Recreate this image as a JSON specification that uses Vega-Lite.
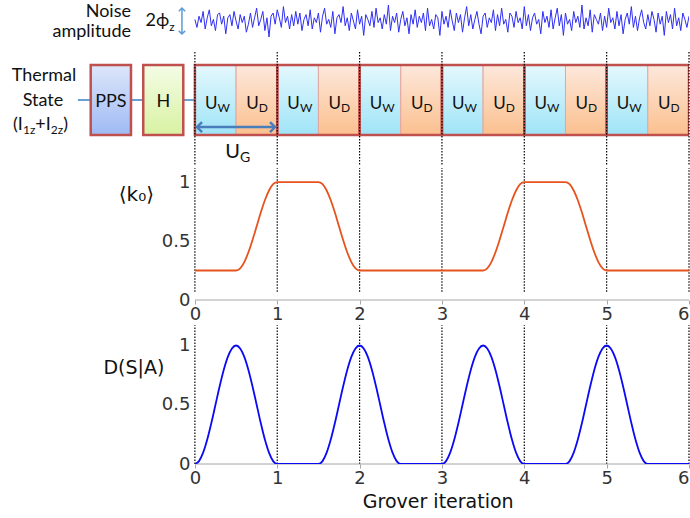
{
"$schema": "https://vega.github.io/schema/vega-lite/v6.json",
"padding": 0,
"background": "#ffffff",
"spacing": 0,
"config": {"view": {"stroke": null}, "font": "DejaVu Sans", "axis": {"grid": false, "labelFont": "DejaVu Sans"}},
"datasets": {
"grid": [{"x":0},{"x":1},{"x":2},{"x":3},{"x":4},{"x":5},{"x":6}],
"boxes": [
{"kind":"PPS","x":-1.265,"x2":-0.776},
{"kind":"H","x":-0.627,"x2":-0.141},
{"kind":"UW","x":0,"x2":0.5},{"kind":"UD","x":0.5,"x2":1},
{"kind":"UW","x":1,"x2":1.5},{"kind":"UD","x":1.5,"x2":2},
{"kind":"UW","x":2,"x2":2.5},{"kind":"UD","x":2.5,"x2":3},
{"kind":"UW","x":3,"x2":3.5},{"kind":"UD","x":3.5,"x2":4},
{"kind":"UW","x":4,"x2":4.5},{"kind":"UD","x":4.5,"x2":5},
{"kind":"UW","x":5,"x2":5.5},{"kind":"UD","x":5.5,"x2":6},
{"kind":"G","x":0,"x2":1},{"kind":"G","x":1,"x2":2},{"kind":"G","x":2,"x2":3},
{"kind":"G","x":3,"x2":4},{"kind":"G","x":4,"x2":5},{"kind":"G","x":5,"x2":6}
],
"links": [
{"name":"conn","x":-1.42,"x2":0,"y":0.5,"y2":0.5},
{"name":"ug","x":0.026,"x2":0.973,"y":0.114,"y2":0.114},
{"name":"amp","x":-0.157,"x2":-0.157,"y":1.443,"y2":1.814}
],
"texts": [
{"group":"r","t":"Noise","x":-0.776,"y":1.76},
{"group":"r","t":"amplitude","x":-0.776,"y":1.47},
{"group":"c","t":"Thermal","x":-1.832,"y":0.85},
{"group":"c","t":"State","x":-1.845,"y":0.49},
{"group":"c","t":"PPS","x":-1.02,"y":0.47},
{"group":"c","t":"H","x":-0.384,"y":0.47},
{"group":"l","t":"(I","x":-2.209,"y":0.143},
{"group":"l","t":"+I","x":-1.937,"y":0.143},
{"group":"l","t":")","x":-1.599,"y":0.143},
{"group":"s","t":"1z","x":-2.087,"y":0.071},
{"group":"s","t":"2z","x":-1.75,"y":0.071},
{"group":"p","t":"2ϕ","x":-0.6,"y":1.63},
{"group":"s","t":"z","x":-0.31,"y":1.54},
{"group":"u","t":"U","x":0.275,"y":0.44},{"group":"s","t":"W","x":0.275,"y":0.385},
{"group":"u","t":"U","x":0.775,"y":0.44},{"group":"s","t":"D","x":0.775,"y":0.385},
{"group":"u","t":"U","x":1.275,"y":0.44},{"group":"s","t":"W","x":1.275,"y":0.385},
{"group":"u","t":"U","x":1.775,"y":0.44},{"group":"s","t":"D","x":1.775,"y":0.385},
{"group":"u","t":"U","x":2.275,"y":0.44},{"group":"s","t":"W","x":2.275,"y":0.385},
{"group":"u","t":"U","x":2.775,"y":0.44},{"group":"s","t":"D","x":2.775,"y":0.385},
{"group":"u","t":"U","x":3.275,"y":0.44},{"group":"s","t":"W","x":3.275,"y":0.385},
{"group":"u","t":"U","x":3.775,"y":0.44},{"group":"s","t":"D","x":3.775,"y":0.385},
{"group":"u","t":"U","x":4.275,"y":0.44},{"group":"s","t":"W","x":4.275,"y":0.385},
{"group":"u","t":"U","x":4.775,"y":0.44},{"group":"s","t":"D","x":4.775,"y":0.385},
{"group":"u","t":"U","x":5.275,"y":0.44},{"group":"s","t":"W","x":5.275,"y":0.385},
{"group":"u","t":"U","x":5.775,"y":0.44},{"group":"s","t":"D","x":5.775,"y":0.385},
{"group":"g","t":"U","x":0.548,"y":-0.243},
{"group":"gs","t":"G","x":0.548,"y":-0.33}
],
"noise": [
{"x":0,"y":0.1},{"x":0.025,"y":-0.4},{"x":0.05,"y":0.3},{"x":0.075,"y":-0.1},{"x":0.1,"y":0.6},{"x":0.125,"y":-0.5},{"x":0.15,"y":0.2},{"x":0.175,"y":0.7},{"x":0.2,"y":-0.3},{"x":0.225,"y":0.1},
{"x":0.25,"y":-0.6},{"x":0.275,"y":0.4},{"x":0.3,"y":0.5},{"x":0.325,"y":-0.2},{"x":0.35,"y":0.3},{"x":0.375,"y":-0.8},{"x":0.4,"y":0.2},{"x":0.425,"y":0.4},{"x":0.45,"y":-0.3},{"x":0.475,"y":0.6},
{"x":0.5,"y":0.0},{"x":0.525,"y":-0.5},{"x":0.55,"y":0.4},{"x":0.575,"y":-0.1},{"x":0.6,"y":0.3},{"x":0.625,"y":-0.7},{"x":0.65,"y":-0.2},{"x":0.675,"y":0.5},{"x":0.7,"y":-0.4},{"x":0.725,"y":0.2},
{"x":0.75,"y":0.8},{"x":0.775,"y":-0.3},{"x":0.8,"y":0.1},{"x":0.825,"y":0.6},{"x":0.85,"y":-0.6},{"x":0.875,"y":0.2},{"x":0.9,"y":-1.0},{"x":0.925,"y":0.3},{"x":0.95,"y":0.5},{"x":0.975,"y":-0.2},
{"x":1,"y":0.7},{"x":1.025,"y":0.2},{"x":1.05,"y":-0.4},{"x":1.075,"y":0.9},{"x":1.1,"y":-0.1},{"x":1.125,"y":0.3},{"x":1.15,"y":-0.5},{"x":1.175,"y":0.4},{"x":1.2,"y":-0.3},{"x":1.225,"y":0.6},
{"x":1.25,"y":-0.2},{"x":1.275,"y":0.5},{"x":1.3,"y":-0.6},{"x":1.325,"y":0.1},{"x":1.35,"y":0.4},{"x":1.375,"y":-0.3},{"x":1.4,"y":0.7},{"x":1.425,"y":-0.5},{"x":1.45,"y":0.2},{"x":1.475,"y":-0.1},
{"x":1.5,"y":0.5},{"x":1.525,"y":-0.7},{"x":1.55,"y":0.3},{"x":1.575,"y":0.8},{"x":1.6,"y":-0.2},{"x":1.625,"y":0.1},{"x":1.65,"y":-0.4},{"x":1.675,"y":0.6},{"x":1.7,"y":-0.8},{"x":1.725,"y":0.2},
{"x":1.75,"y":0.4},{"x":1.775,"y":-0.1},{"x":1.8,"y":0.9},{"x":1.825,"y":-0.3},{"x":1.85,"y":0.2},{"x":1.875,"y":-0.6},{"x":1.9,"y":0.5},{"x":1.925,"y":0.0},{"x":1.95,"y":-0.5},{"x":1.975,"y":0.7},
{"x":2,"y":-0.2},{"x":2.025,"y":0.3},{"x":2.05,"y":-0.9},{"x":2.075,"y":0.4},{"x":2.1,"y":0.1},{"x":2.125,"y":-0.3},{"x":2.15,"y":0.6},{"x":2.175,"y":-0.4},{"x":2.2,"y":0.8},{"x":2.225,"y":-0.1},
{"x":2.25,"y":0.2},{"x":2.275,"y":-0.5},{"x":2.3,"y":0.4},{"x":2.325,"y":-0.2},{"x":2.35,"y":1.0},{"x":2.375,"y":-0.6},{"x":2.4,"y":0.3},{"x":2.425,"y":-0.1},{"x":2.45,"y":0.5},{"x":2.475,"y":-0.7},
{"x":2.5,"y":0.1},{"x":2.525,"y":0.6},{"x":2.55,"y":-0.3},{"x":2.575,"y":0.2},{"x":2.6,"y":-0.8},{"x":2.625,"y":0.4},{"x":2.65,"y":-0.2},{"x":2.675,"y":0.7},{"x":2.7,"y":-0.4},{"x":2.725,"y":0.3},
{"x":2.75,"y":-0.1},{"x":2.775,"y":0.5},{"x":2.8,"y":-0.6},{"x":2.825,"y":0.8},{"x":2.85,"y":-0.3},{"x":2.875,"y":0.1},{"x":2.9,"y":-0.5},{"x":2.925,"y":0.4},{"x":2.95,"y":0.2},{"x":2.975,"y":-0.9},
{"x":3,"y":0.6},{"x":3.025,"y":-0.2},{"x":3.05,"y":0.3},{"x":3.075,"y":-0.4},{"x":3.1,"y":0.7},{"x":3.125,"y":0.0},{"x":3.15,"y":-0.6},{"x":3.175,"y":0.5},{"x":3.2,"y":-0.1},{"x":3.225,"y":0.4},
{"x":3.25,"y":-0.7},{"x":3.275,"y":0.2},{"x":3.3,"y":0.9},{"x":3.325,"y":-0.3},{"x":3.35,"y":0.4},{"x":3.375,"y":-0.5},{"x":3.4,"y":0.1},{"x":3.425,"y":0.6},{"x":3.45,"y":-0.2},{"x":3.475,"y":-0.8},
{"x":3.5,"y":0.3},{"x":3.525,"y":0.5},{"x":3.55,"y":-0.4},{"x":3.575,"y":0.2},{"x":3.6,"y":-0.1},{"x":3.625,"y":0.7},{"x":3.65,"y":-0.6},{"x":3.675,"y":0.4},{"x":3.7,"y":-0.3},{"x":3.725,"y":0.8},
{"x":3.75,"y":-0.2},{"x":3.775,"y":0.1},{"x":3.8,"y":-0.7},{"x":3.825,"y":0.5},{"x":3.85,"y":0.3},{"x":3.875,"y":-0.4},{"x":3.9,"y":0.6},{"x":3.925,"y":-0.1},{"x":3.95,"y":0.2},{"x":3.975,"y":-0.5},
{"x":4,"y":0.9},{"x":4.025,"y":-0.3},{"x":4.05,"y":0.4},{"x":4.075,"y":-0.6},{"x":4.1,"y":0.2},{"x":4.125,"y":0.5},{"x":4.15,"y":-0.2},{"x":4.175,"y":0.1},{"x":4.2,"y":-0.8},{"x":4.225,"y":0.6},
{"x":4.25,"y":-0.1},{"x":4.275,"y":0.3},{"x":4.3,"y":-0.4},{"x":4.325,"y":0.7},{"x":4.35,"y":-0.5},{"x":4.375,"y":0.2},{"x":4.4,"y":0.8},{"x":4.425,"y":-0.3},{"x":4.45,"y":0.4},{"x":4.475,"y":-0.9},
{"x":4.5,"y":0.5},{"x":4.525,"y":-0.2},{"x":4.55,"y":0.1},{"x":4.575,"y":-0.6},{"x":4.6,"y":0.6},{"x":4.625,"y":-0.1},{"x":4.65,"y":0.3},{"x":4.675,"y":-0.4},{"x":4.7,"y":1.0},{"x":4.725,"y":-0.5},
{"x":4.75,"y":0.2},{"x":4.775,"y":-0.3},{"x":4.8,"y":0.7},{"x":4.825,"y":-0.7},{"x":4.85,"y":0.4},{"x":4.875,"y":0.1},{"x":4.9,"y":-0.2},{"x":4.925,"y":0.5},{"x":4.95,"y":-0.6},{"x":4.975,"y":0.3},
{"x":5,"y":-0.4},{"x":5.025,"y":0.8},{"x":5.05,"y":-0.1},{"x":5.075,"y":0.2},{"x":5.1,"y":-0.5},{"x":5.125,"y":0.6},{"x":5.15,"y":-0.3},{"x":5.175,"y":0.4},{"x":5.2,"y":-0.8},{"x":5.225,"y":0.1},
{"x":5.25,"y":0.5},{"x":5.275,"y":-0.2},{"x":5.3,"y":0.9},{"x":5.325,"y":-0.4},{"x":5.35,"y":0.3},{"x":5.375,"y":-0.6},{"x":5.4,"y":0.2},{"x":5.425,"y":0.7},{"x":5.45,"y":-0.1},{"x":5.475,"y":-0.5},
{"x":5.5,"y":0.4},{"x":5.525,"y":-0.3},{"x":5.55,"y":0.6},{"x":5.575,"y":0.1},{"x":5.6,"y":-0.7},{"x":5.625,"y":0.5},{"x":5.65,"y":-0.2},{"x":5.675,"y":0.3},{"x":5.7,"y":-0.9},{"x":5.725,"y":0.6},
{"x":5.75,"y":-0.1},{"x":5.775,"y":0.4},{"x":5.8,"y":-0.5},{"x":5.825,"y":0.8},{"x":5.85,"y":-0.3},{"x":5.875,"y":0.2},{"x":5.9,"y":-0.6},{"x":5.925,"y":0.5},{"x":5.95,"y":0.1},{"x":5.975,"y":-0.4},
{"x":6,"y":0.3}
],
"k0": [
{"x":0,"y":0.25},{"x":0.5,"y":0.25},{"x":0.55,"y":0.2684},{"x":0.6,"y":0.3216},{"x":0.65,"y":0.4046},{"x":0.7,"y":0.5091},{"x":0.75,"y":0.625},{"x":0.8,"y":0.7409},{"x":0.85,"y":0.8454},{"x":0.9,"y":0.9284},{"x":0.95,"y":0.9816},{"x":1,"y":1},
{"x":1.5,"y":1},{"x":1.55,"y":0.9816},{"x":1.6,"y":0.9284},{"x":1.65,"y":0.8454},{"x":1.7,"y":0.7409},{"x":1.75,"y":0.625},{"x":1.8,"y":0.5091},{"x":1.85,"y":0.4046},{"x":1.9,"y":0.3216},{"x":1.95,"y":0.2684},{"x":2,"y":0.25},
{"x":3.5,"y":0.25},{"x":3.55,"y":0.2684},{"x":3.6,"y":0.3216},{"x":3.65,"y":0.4046},{"x":3.7,"y":0.5091},{"x":3.75,"y":0.625},{"x":3.8,"y":0.7409},{"x":3.85,"y":0.8454},{"x":3.9,"y":0.9284},{"x":3.95,"y":0.9816},{"x":4,"y":1},
{"x":4.5,"y":1},{"x":4.55,"y":0.9816},{"x":4.6,"y":0.9284},{"x":4.65,"y":0.8454},{"x":4.7,"y":0.7409},{"x":4.75,"y":0.625},{"x":4.8,"y":0.5091},{"x":4.85,"y":0.4046},{"x":4.9,"y":0.3216},{"x":4.95,"y":0.2684},{"x":5,"y":0.25},
{"x":6,"y":0.25}
],
"dsa": [
{"x":0,"y":0},{"x":0.05,"y":0.0245},{"x":0.1,"y":0.0955},{"x":0.15,"y":0.2061},{"x":0.2,"y":0.3455},{"x":0.25,"y":0.5},{"x":0.3,"y":0.6545},{"x":0.35,"y":0.7939},{"x":0.4,"y":0.9045},{"x":0.45,"y":0.9755},{"x":0.5,"y":1},
{"x":0.55,"y":0.9755},{"x":0.6,"y":0.9045},{"x":0.65,"y":0.7939},{"x":0.7,"y":0.6545},{"x":0.75,"y":0.5},{"x":0.8,"y":0.3455},{"x":0.85,"y":0.2061},{"x":0.9,"y":0.0955},{"x":0.95,"y":0.0245},{"x":1,"y":0},
{"x":1.5,"y":0},{"x":1.55,"y":0.0245},{"x":1.6,"y":0.0955},{"x":1.65,"y":0.2061},{"x":1.7,"y":0.3455},{"x":1.75,"y":0.5},{"x":1.8,"y":0.6545},{"x":1.85,"y":0.7939},{"x":1.9,"y":0.9045},{"x":1.95,"y":0.9755},{"x":2,"y":1},
{"x":2.05,"y":0.9755},{"x":2.1,"y":0.9045},{"x":2.15,"y":0.7939},{"x":2.2,"y":0.6545},{"x":2.25,"y":0.5},{"x":2.3,"y":0.3455},{"x":2.35,"y":0.2061},{"x":2.4,"y":0.0955},{"x":2.45,"y":0.0245},{"x":2.5,"y":0},
{"x":3,"y":0},{"x":3.05,"y":0.0245},{"x":3.1,"y":0.0955},{"x":3.15,"y":0.2061},{"x":3.2,"y":0.3455},{"x":3.25,"y":0.5},{"x":3.3,"y":0.6545},{"x":3.35,"y":0.7939},{"x":3.4,"y":0.9045},{"x":3.45,"y":0.9755},{"x":3.5,"y":1},
{"x":3.55,"y":0.9755},{"x":3.6,"y":0.9045},{"x":3.65,"y":0.7939},{"x":3.7,"y":0.6545},{"x":3.75,"y":0.5},{"x":3.8,"y":0.3455},{"x":3.85,"y":0.2061},{"x":3.9,"y":0.0955},{"x":3.95,"y":0.0245},{"x":4,"y":0},
{"x":4.5,"y":0},{"x":4.55,"y":0.0245},{"x":4.6,"y":0.0955},{"x":4.65,"y":0.2061},{"x":4.7,"y":0.3455},{"x":4.75,"y":0.5},{"x":4.8,"y":0.6545},{"x":4.85,"y":0.7939},{"x":4.9,"y":0.9045},{"x":4.95,"y":0.9755},{"x":5,"y":1},
{"x":5.05,"y":0.9755},{"x":5.1,"y":0.9045},{"x":5.15,"y":0.7939},{"x":5.2,"y":0.6545},{"x":5.25,"y":0.5},{"x":5.3,"y":0.3455},{"x":5.35,"y":0.2061},{"x":5.4,"y":0.0955},{"x":5.45,"y":0.0245},{"x":5.5,"y":0},
{"x":6,"y":0}
],
"titles": [
{"panel":"k0","t":"⟨k₀⟩","x":-0.71,"y":0.89},
{"panel":"d","t":"D(S|A)","x":-0.74,"y":0.81},
{"panel":"d","t":"Grover iteration","x":2.955,"y":-0.321}
]
},
"vconcat": [
{
"width": 689, "height": 166,
"resolve": {"scale": {"y": "independent"}},
"layer": [
{
"layer": [
{"data": {"name": "links"}, "transform": [{"filter": "datum.name === 'conn'"}],
 "mark": {"type": "rule", "color": "#6a9fd3", "strokeWidth": 2},
 "encoding": {"x": {"field":"x","type":"quantitative","scale":{"domain":[-2.3665,6],"nice":false,"zero":false},"axis":null}, "x2": {"field": "x2"},
  "y": {"field":"y","type":"quantitative","scale":{"domain":[-0.443,1.929],"nice":false,"zero":false},"axis":null}}},
{"data": {"name": "boxes"}, "transform": [{"filter": "datum.kind === 'PPS'"}],
 "mark": {"type": "rect", "clip": true, "stroke": "#c0504d", "strokeWidth": 2.5,
  "fill": {"gradient":"linear","x1":0,"y1":0,"x2":0,"y2":1,"stops":[{"offset":0,"color":"#dde6fa"},{"offset":1,"color":"#9fbaf4"}]}},
 "encoding": {"x": {"field":"x","type":"quantitative","scale":{"domain":[-2.3665,6],"nice":false,"zero":false},"axis":null}, "x2": {"field": "x2"},
  "y": {"datum":0,"type":"quantitative","scale":{"domain":[-0.443,1.929],"nice":false,"zero":false},"axis":null}, "y2": {"datum": 1}}},
{"data": {"name": "boxes"}, "transform": [{"filter": "datum.kind === 'H'"}],
 "mark": {"type": "rect", "clip": true, "stroke": "#c0504d", "strokeWidth": 2.5,
  "fill": {"gradient":"linear","x1":0,"y1":0,"x2":0,"y2":1,"stops":[{"offset":0,"color":"#f4fce6"},{"offset":1,"color":"#d8f2a2"}]}},
 "encoding": {"x": {"field":"x","type":"quantitative","scale":{"domain":[-2.3665,6],"nice":false,"zero":false},"axis":null}, "x2": {"field": "x2"},
  "y": {"datum":0,"type":"quantitative","scale":{"domain":[-0.443,1.929],"nice":false,"zero":false},"axis":null}, "y2": {"datum": 1}}},
{"data": {"name": "boxes"}, "transform": [{"filter": "datum.kind === 'UW'"}],
 "mark": {"type": "rect", "clip": true, "stroke": "#e3a6a0", "strokeWidth": 1,
  "fill": {"gradient":"linear","x1":0,"y1":0,"x2":0,"y2":1,"stops":[{"offset":0,"color":"#e4f8fd"},{"offset":1,"color":"#9fe4f7"}]}},
 "encoding": {"x": {"field":"x","type":"quantitative","scale":{"domain":[-2.3665,6],"nice":false,"zero":false},"axis":null}, "x2": {"field": "x2"},
  "y": {"datum":0,"type":"quantitative","scale":{"domain":[-0.443,1.929],"nice":false,"zero":false},"axis":null}, "y2": {"datum": 1}}},
{"data": {"name": "boxes"}, "transform": [{"filter": "datum.kind === 'UD'"}],
 "mark": {"type": "rect", "clip": true, "stroke": "#e3a6a0", "strokeWidth": 1,
  "fill": {"gradient":"linear","x1":0,"y1":0,"x2":0,"y2":1,"stops":[{"offset":0,"color":"#fde8dc"},{"offset":1,"color":"#fbc08f"}]}},
 "encoding": {"x": {"field":"x","type":"quantitative","scale":{"domain":[-2.3665,6],"nice":false,"zero":false},"axis":null}, "x2": {"field": "x2"},
  "y": {"datum":0,"type":"quantitative","scale":{"domain":[-0.443,1.929],"nice":false,"zero":false},"axis":null}, "y2": {"datum": 1}}},
{"data": {"name": "boxes"}, "transform": [{"filter": "datum.kind === 'G'"}],
 "mark": {"type": "rect", "clip": true, "stroke": "#c0504d", "strokeWidth": 2.5, "fill": "#ffffff", "fillOpacity": 0},
 "encoding": {"x": {"field":"x","type":"quantitative","scale":{"domain":[-2.3665,6],"nice":false,"zero":false},"axis":null}, "x2": {"field": "x2"},
  "y": {"datum":0,"type":"quantitative","scale":{"domain":[-0.443,1.929],"nice":false,"zero":false},"axis":null}, "y2": {"datum": 1}}},
{"data": {"name": "grid"},
 "mark": {"type": "rule", "color": "#000000", "strokeWidth": 1.2, "strokeDash": [1.5, 1.5]},
 "encoding": {"x": {"field":"x","type":"quantitative","scale":{"domain":[-2.3665,6],"nice":false,"zero":false},"axis":null},
  "y": {"datum":1.186,"type":"quantitative","scale":{"domain":[-0.443,1.929],"nice":false,"zero":false},"axis":null}, "y2": {"datum": -0.443}}},
{"data": {"name": "links"}, "transform": [{"filter": "datum.name === 'ug'"}],
 "mark": {"type": "rule", "color": "#4a7ebb", "strokeWidth": 2.5},
 "encoding": {"x": {"field":"x","type":"quantitative","scale":{"domain":[-2.3665,6],"nice":false,"zero":false},"axis":null}, "x2": {"field": "x2"},
  "y": {"field":"y","type":"quantitative","scale":{"domain":[-0.443,1.929],"nice":false,"zero":false},"axis":null}}},
{"data": {"name": "links"}, "transform": [{"filter": "datum.name === 'ug'"}],
 "mark": {"type": "point", "shape": "M -1 -1 L 0 0 L -1 1", "filled": false, "stroke": "#4a7ebb", "strokeWidth": 2.5, "size": 100, "opacity": 1},
 "encoding": {"x": {"field":"x2","type":"quantitative","scale":{"domain":[-2.3665,6],"nice":false,"zero":false},"axis":null},
  "y": {"field":"y","type":"quantitative","scale":{"domain":[-0.443,1.929],"nice":false,"zero":false},"axis":null}}},
{"data": {"name": "links"}, "transform": [{"filter": "datum.name === 'ug'"}],
 "mark": {"type": "point", "shape": "M 1 -1 L 0 0 L 1 1", "filled": false, "stroke": "#4a7ebb", "strokeWidth": 2.5, "size": 100, "opacity": 1},
 "encoding": {"x": {"field":"x","type":"quantitative","scale":{"domain":[-2.3665,6],"nice":false,"zero":false},"axis":null},
  "y": {"field":"y","type":"quantitative","scale":{"domain":[-0.443,1.929],"nice":false,"zero":false},"axis":null}}},
{"data": {"name": "links"}, "transform": [{"filter": "datum.name === 'amp'"}],
 "mark": {"type": "rule", "color": "#5b9bd5", "strokeWidth": 1.5},
 "encoding": {"x": {"field":"x","type":"quantitative","scale":{"domain":[-2.3665,6],"nice":false,"zero":false},"axis":null},
  "y": {"field":"y","type":"quantitative","scale":{"domain":[-0.443,1.929],"nice":false,"zero":false},"axis":null}, "y2": {"field": "y2"}}},
{"data": {"name": "links"}, "transform": [{"filter": "datum.name === 'amp'"}],
 "mark": {"type": "point", "shape": "M -1 1 L 0 0 L 1 1", "filled": false, "stroke": "#5b9bd5", "strokeWidth": 1.5, "size": 40, "opacity": 1},
 "encoding": {"x": {"field":"x","type":"quantitative","scale":{"domain":[-2.3665,6],"nice":false,"zero":false},"axis":null},
  "y": {"field":"y2","type":"quantitative","scale":{"domain":[-0.443,1.929],"nice":false,"zero":false},"axis":null}}},
{"data": {"name": "links"}, "transform": [{"filter": "datum.name === 'amp'"}],
 "mark": {"type": "point", "shape": "M -1 -1 L 0 0 L 1 -1", "filled": false, "stroke": "#5b9bd5", "strokeWidth": 1.5, "size": 40, "opacity": 1},
 "encoding": {"x": {"field":"x","type":"quantitative","scale":{"domain":[-2.3665,6],"nice":false,"zero":false},"axis":null},
  "y": {"field":"y","type":"quantitative","scale":{"domain":[-0.443,1.929],"nice":false,"zero":false},"axis":null}}},
{"data": {"name": "texts"}, "transform": [{"filter": "datum.group === 'r'"}],
 "mark": {"type": "text", "font": "Lato", "fontSize": 18, "align": "right", "baseline": "middle", "color": "#111111"},
 "encoding": {"x": {"field":"x","type":"quantitative","scale":{"domain":[-2.3665,6],"nice":false,"zero":false},"axis":null},
  "y": {"field":"y","type":"quantitative","scale":{"domain":[-0.443,1.929],"nice":false,"zero":false},"axis":null}, "text": {"field": "t"}}},
{"data": {"name": "texts"}, "transform": [{"filter": "datum.group === 'c'"}],
 "mark": {"type": "text", "font": "Lato", "fontSize": 18, "align": "center", "baseline": "middle", "color": "#111111"},
 "encoding": {"x": {"field":"x","type":"quantitative","scale":{"domain":[-2.3665,6],"nice":false,"zero":false},"axis":null},
  "y": {"field":"y","type":"quantitative","scale":{"domain":[-0.443,1.929],"nice":false,"zero":false},"axis":null}, "text": {"field": "t"}}},
{"data": {"name": "texts"}, "transform": [{"filter": "datum.group === 'l'"}],
 "mark": {"type": "text", "font": "Lato", "fontSize": 18, "align": "left", "baseline": "middle", "color": "#111111"},
 "encoding": {"x": {"field":"x","type":"quantitative","scale":{"domain":[-2.3665,6],"nice":false,"zero":false},"axis":null},
  "y": {"field":"y","type":"quantitative","scale":{"domain":[-0.443,1.929],"nice":false,"zero":false},"axis":null}, "text": {"field": "t"}}},
{"data": {"name": "texts"}, "transform": [{"filter": "datum.group === 'p'"}],
 "mark": {"type": "text", "font": "Lato, DejaVu Sans", "fontSize": 18, "align": "left", "baseline": "middle", "color": "#111111"},
 "encoding": {"x": {"field":"x","type":"quantitative","scale":{"domain":[-2.3665,6],"nice":false,"zero":false},"axis":null},
  "y": {"field":"y","type":"quantitative","scale":{"domain":[-0.443,1.929],"nice":false,"zero":false},"axis":null}, "text": {"field": "t"}}},
{"data": {"name": "texts"}, "transform": [{"filter": "datum.group === 's'"}],
 "mark": {"type": "text", "font": "Lato", "fontSize": 12, "align": "left", "baseline": "middle", "color": "#111111"},
 "encoding": {"x": {"field":"x","type":"quantitative","scale":{"domain":[-2.3665,6],"nice":false,"zero":false},"axis":null},
  "y": {"field":"y","type":"quantitative","scale":{"domain":[-0.443,1.929],"nice":false,"zero":false},"axis":null}, "text": {"field": "t"}}},
{"data": {"name": "texts"}, "transform": [{"filter": "datum.group === 'u'"}],
 "mark": {"type": "text", "font": "Lato", "fontSize": 17, "align": "right", "baseline": "middle", "color": "#111111"},
 "encoding": {"x": {"field":"x","type":"quantitative","scale":{"domain":[-2.3665,6],"nice":false,"zero":false},"axis":null},
  "y": {"field":"y","type":"quantitative","scale":{"domain":[-0.443,1.929],"nice":false,"zero":false},"axis":null}, "text": {"field": "t"}}},
{"data": {"name": "texts"}, "transform": [{"filter": "datum.group === 'g'"}],
 "mark": {"type": "text", "font": "Lato", "fontSize": 20, "align": "right", "baseline": "middle", "color": "#111111"},
 "encoding": {"x": {"field":"x","type":"quantitative","scale":{"domain":[-2.3665,6],"nice":false,"zero":false},"axis":null},
  "y": {"field":"y","type":"quantitative","scale":{"domain":[-0.443,1.929],"nice":false,"zero":false},"axis":null}, "text": {"field": "t"}}},
{"data": {"name": "texts"}, "transform": [{"filter": "datum.group === 'gs'"}],
 "mark": {"type": "text", "font": "Lato", "fontSize": 14, "align": "left", "baseline": "middle", "color": "#111111"},
 "encoding": {"x": {"field":"x","type":"quantitative","scale":{"domain":[-2.3665,6],"nice":false,"zero":false},"axis":null},
  "y": {"field":"y","type":"quantitative","scale":{"domain":[-0.443,1.929],"nice":false,"zero":false},"axis":null}, "text": {"field": "t"}}}
]
},
{"data": {"name": "noise"},
 "mark": {"type": "line", "color": "#2f2ff5", "strokeWidth": 1, "clip": true},
 "encoding": {"x": {"field":"x","type":"quantitative","scale":{"domain":[-2.3665,6],"nice":false,"zero":false},"axis":null},
  "y": {"field":"y","type":"quantitative","scale":{"domain":[-9.0625,1.3125],"nice":false,"zero":false},"axis":null}}}
]
},
{
"width": 689, "height": 132,
"layer": [
{"data": {"name": "grid"},
 "mark": {"type": "rule", "color": "#000000", "strokeWidth": 1.2, "strokeDash": [1.5, 1.5]},
 "encoding": {"x": {"field":"x","type":"quantitative","scale":{"domain":[-2.3665,6],"nice":false,"zero":false},
   "axis": {"values":[0,1,2,3,4,5,6],"domain":false,"ticks":true,"tickSize":4,"tickColor":"#a6a6a6","labelFontSize":18,"labelColor":"#333333","labelPadding":1,"labelFlush":3,"title":null,"grid":false}},
  "y": {"datum":0.07,"type":"quantitative","scale":{"domain":[0,1.119],"nice":false,"zero":false},
   "axis": {"values":[0,0.5,1],"format":"~g","domain":false,"ticks":false,"tickSize":0,"offset":-195,"labelFontSize":18,"labelColor":"#333333","labelPadding":5,"title":null,"grid":false}}, "y2": {"datum": 1.119}}},
{"data": {"name": "grid"}, "transform": [{"filter": "datum.x === 0"}],
 "mark": {"type": "rule", "color": "#a6a6a6", "strokeWidth": 1},
 "encoding": {"x": {"datum":0,"type":"quantitative","scale":{"domain":[-2.3665,6],"nice":false,"zero":false},
   "axis": {"values":[0,1,2,3,4,5,6],"domain":false,"ticks":true,"tickSize":4,"tickColor":"#a6a6a6","labelFontSize":18,"labelColor":"#333333","labelPadding":1,"labelFlush":3,"title":null,"grid":false}}, "x2": {"datum": 6},
  "y": {"datum":0,"type":"quantitative","scale":{"domain":[0,1.119],"nice":false,"zero":false},
   "axis": {"values":[0,0.5,1],"format":"~g","domain":false,"ticks":false,"tickSize":0,"offset":-195,"labelFontSize":18,"labelColor":"#333333","labelPadding":5,"title":null,"grid":false}}}},
{"data": {"name": "k0"},
 "mark": {"type": "line", "color": "#e6531d", "strokeWidth": 1.8, "interpolate": "monotone", "clip": true},
 "encoding": {"x": {"field":"x","type":"quantitative","scale":{"domain":[-2.3665,6],"nice":false,"zero":false},
   "axis": {"values":[0,1,2,3,4,5,6],"domain":false,"ticks":true,"tickSize":4,"tickColor":"#a6a6a6","labelFontSize":18,"labelColor":"#333333","labelPadding":1,"labelFlush":3,"title":null,"grid":false}},
  "y": {"field":"y","type":"quantitative","scale":{"domain":[0,1.119],"nice":false,"zero":false},
   "axis": {"values":[0,0.5,1],"format":"~g","domain":false,"ticks":false,"tickSize":0,"offset":-195,"labelFontSize":18,"labelColor":"#333333","labelPadding":5,"title":null,"grid":false}}}},
{"data": {"name": "titles"}, "transform": [{"filter": "datum.panel === 'k0'"}],
 "mark": {"type": "text", "fontSize": 20, "align": "center", "baseline": "middle", "color": "#111111"},
 "encoding": {"x": {"field":"x","type":"quantitative","scale":{"domain":[-2.3665,6],"nice":false,"zero":false},
   "axis": {"values":[0,1,2,3,4,5,6],"domain":false,"ticks":true,"tickSize":4,"tickColor":"#a6a6a6","labelFontSize":18,"labelColor":"#333333","labelPadding":1,"labelFlush":3,"title":null,"grid":false}},
  "y": {"field":"y","type":"quantitative","scale":{"domain":[0,1.119],"nice":false,"zero":false},
   "axis": {"values":[0,0.5,1],"format":"~g","domain":false,"ticks":false,"tickSize":0,"offset":-195,"labelFontSize":18,"labelColor":"#333333","labelPadding":5,"title":null,"grid":false}}, "text": {"field": "t"}}}
]
},
{
"width": 689, "height": 141,
"layer": [
{"data": {"name": "grid"},
 "mark": {"type": "rule", "color": "#000000", "strokeWidth": 1.2, "strokeDash": [1.5, 1.5]},
 "encoding": {"x": {"field":"x","type":"quantitative","scale":{"domain":[-2.3665,6],"nice":false,"zero":false},
   "axis": {"values":[0,1,2,3,4,5,6],"domain":false,"ticks":true,"tickSize":4,"tickColor":"#a6a6a6","labelFontSize":18,"labelColor":"#333333","labelPadding":1,"labelFlush":3,"title":null,"grid":false}},
  "y": {"datum":0,"type":"quantitative","scale":{"domain":[0,1.19],"nice":false,"zero":false},
   "axis": {"values":[0,0.5,1],"format":"~g","domain":false,"ticks":false,"tickSize":0,"offset":-195,"labelFontSize":18,"labelColor":"#333333","labelPadding":5,"title":null,"grid":false}}, "y2": {"datum": 1.17}}},
{"data": {"name": "grid"}, "transform": [{"filter": "datum.x === 0"}],
 "mark": {"type": "rule", "color": "#a6a6a6", "strokeWidth": 1},
 "encoding": {"x": {"datum":0,"type":"quantitative","scale":{"domain":[-2.3665,6],"nice":false,"zero":false},
   "axis": {"values":[0,1,2,3,4,5,6],"domain":false,"ticks":true,"tickSize":4,"tickColor":"#a6a6a6","labelFontSize":18,"labelColor":"#333333","labelPadding":1,"labelFlush":3,"title":null,"grid":false}}, "x2": {"datum": 6},
  "y": {"datum":0,"type":"quantitative","scale":{"domain":[0,1.19],"nice":false,"zero":false},
   "axis": {"values":[0,0.5,1],"format":"~g","domain":false,"ticks":false,"tickSize":0,"offset":-195,"labelFontSize":18,"labelColor":"#333333","labelPadding":5,"title":null,"grid":false}}}},
{"data": {"name": "dsa"},
 "mark": {"type": "line", "color": "#0a0af5", "strokeWidth": 1.8, "interpolate": "monotone", "clip": true},
 "encoding": {"x": {"field":"x","type":"quantitative","scale":{"domain":[-2.3665,6],"nice":false,"zero":false},
   "axis": {"values":[0,1,2,3,4,5,6],"domain":false,"ticks":true,"tickSize":4,"tickColor":"#a6a6a6","labelFontSize":18,"labelColor":"#333333","labelPadding":1,"labelFlush":3,"title":null,"grid":false}},
  "y": {"field":"y","type":"quantitative","scale":{"domain":[0,1.19],"nice":false,"zero":false},
   "axis": {"values":[0,0.5,1],"format":"~g","domain":false,"ticks":false,"tickSize":0,"offset":-195,"labelFontSize":18,"labelColor":"#333333","labelPadding":5,"title":null,"grid":false}}}},
{"data": {"name": "titles"}, "transform": [{"filter": "datum.panel === 'd'"}],
 "mark": {"type": "text", "fontSize": 19, "align": "center", "baseline": "middle", "color": "#111111"},
 "encoding": {"x": {"field":"x","type":"quantitative","scale":{"domain":[-2.3665,6],"nice":false,"zero":false},
   "axis": {"values":[0,1,2,3,4,5,6],"domain":false,"ticks":true,"tickSize":4,"tickColor":"#a6a6a6","labelFontSize":18,"labelColor":"#333333","labelPadding":1,"labelFlush":3,"title":null,"grid":false}},
  "y": {"field":"y","type":"quantitative","scale":{"domain":[0,1.19],"nice":false,"zero":false},
   "axis": {"values":[0,0.5,1],"format":"~g","domain":false,"ticks":false,"tickSize":0,"offset":-195,"labelFontSize":18,"labelColor":"#333333","labelPadding":5,"title":null,"grid":false}}, "text": {"field": "t"}}}
]
}
]
}
